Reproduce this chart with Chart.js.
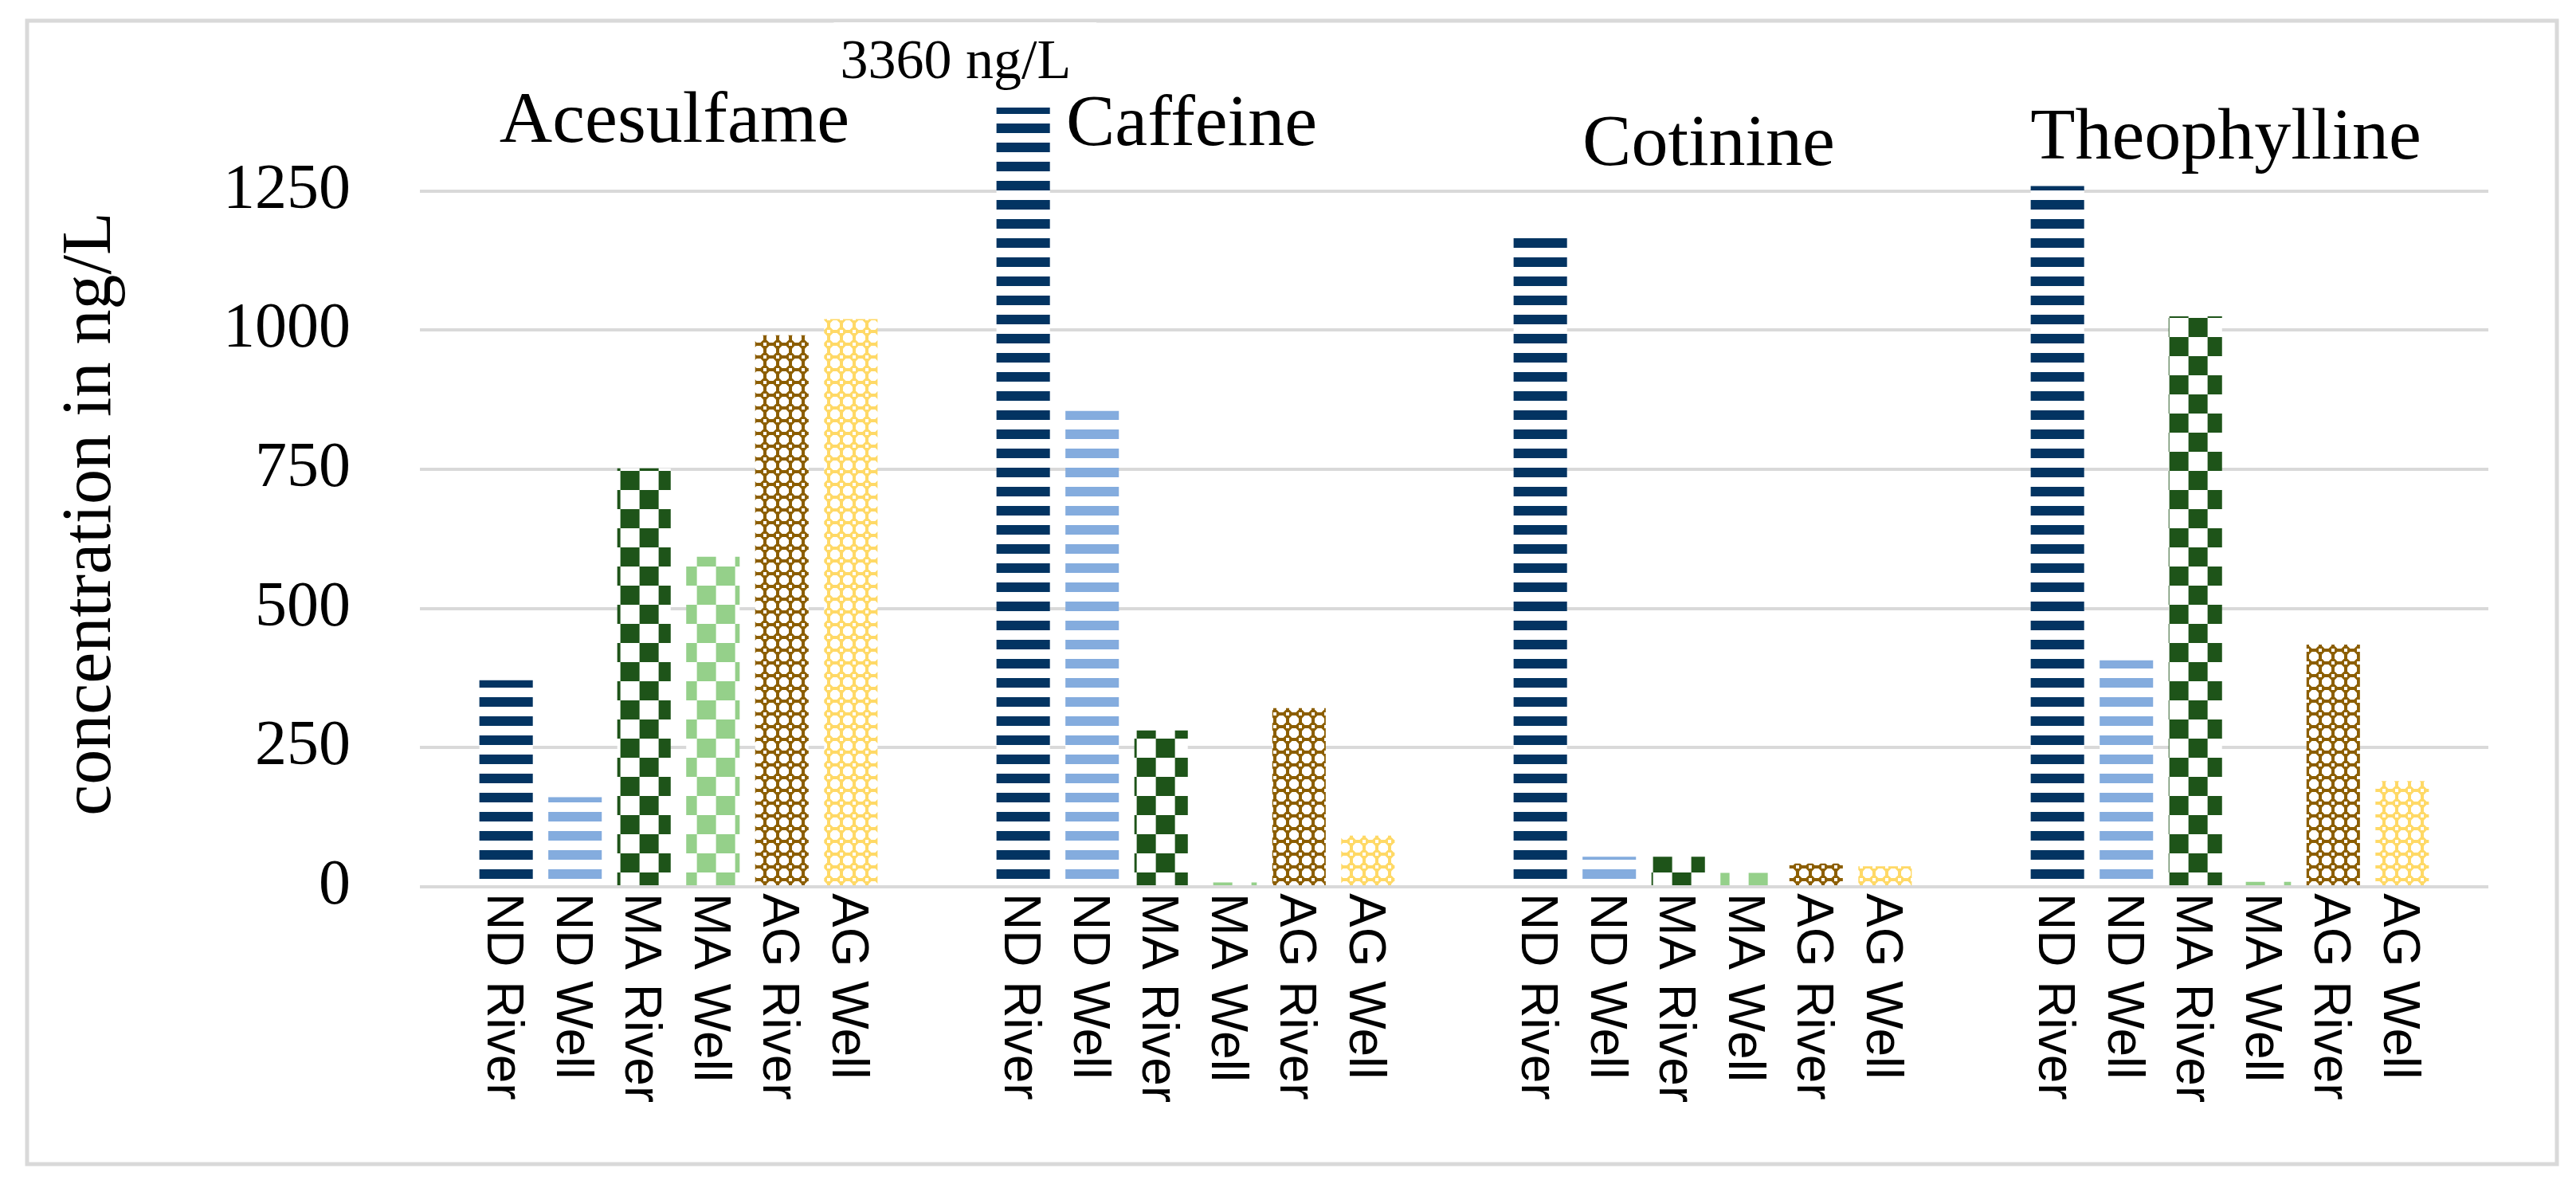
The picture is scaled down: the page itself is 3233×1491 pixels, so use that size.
<!DOCTYPE html>
<html>
<head>
<meta charset="utf-8">
<script src="https://cdn.jsdelivr.net/npm/chart.js@4.4.1/dist/chart.umd.min.js"></script>
<style>
html,body{margin:0;padding:0;background:#fff;overflow:hidden}
canvas{display:block}
</style>
</head>
<body>
<canvas id="c" width="3233" height="1491" style="width:3233px;height:1491px"></canvas>
<script>
// ---- data ----
const compounds = ['Acesulfame', 'Caffeine', 'Cotinine', 'Theophylline'];
const sites = ['ND River', 'ND Well', 'MA River', 'MA Well', 'AG River', 'AG Well'];
const ndRiver = [371, 3360, 1179, 1259];
const ndWell  = [161, 855, 54, 407];
const maRiver = [752, 281, 54, 1025];
const maWell  = [593, 8, 25, 9];
const agRiver = [991, 321, 42, 435];
const agWell  = [1020, 92, 37, 190];
const yTicks = [0, 250, 500, 750, 1000, 1250];
const yMax = 1400;
const yTitle = 'concentration in ng/L';
const offScaleNote = '3360 ng/L';

const seriesValues = [ndRiver, ndWell, maRiver, maWell, agRiver, agWell];

// ---- pattern fills ----
const canvas = document.getElementById('c');
const ctx = canvas.getContext('2d');
function tile(w, h, draw) {
  const c = document.createElement('canvas');
  c.width = w; c.height = h;
  const g = c.getContext('2d');
  g.fillStyle = '#fff'; g.fillRect(0, 0, w, h);
  draw(g);
  return c;
}
function stripes(color) {
  const t = tile(24, 24, g => { g.fillStyle = color; g.fillRect(0, 11, 24, 12); });
  return ctx.createPattern(t, 'repeat');
}
function checker(color) {
  const t = tile(48, 48, g => { g.fillStyle = color; g.fillRect(0, 0, 24, 24); g.fillRect(24, 24, 24, 24); });
  const p = ctx.createPattern(t, 'repeat');
  p.setTransform(new DOMMatrix([1, 0, 0, 1, 10.6, 15]));
  return p;
}
function rings(color) {
  const t = tile(16, 16, g => {
    g.fillStyle = color; g.fillRect(0, 0, 16, 16);
    g.fillStyle = '#fff';
    g.beginPath();
    g.moveTo(5.5, 2); g.lineTo(10.5, 2); g.lineTo(14, 5.5); g.lineTo(14, 10.5);
    g.lineTo(10.5, 14); g.lineTo(5.5, 14); g.lineTo(2, 10.5); g.lineTo(2, 5.5);
    g.closePath(); g.fill();
    g.fillRect(0, 0, 2, 2); g.fillRect(14, 0, 2, 2); g.fillRect(0, 14, 2, 2); g.fillRect(14, 14, 2, 2);
  });
  return ctx.createPattern(t, 'repeat');
}
const fills = [
  stripes('#033462'),
  stripes('#84ACDE'),
  checker('#1E5419'),
  checker('#95D08A'),
  rings('#8C5E00'),
  rings('#FFD966')
];

// ---- decorations: frame, titles, per-bar labels ----
const deco = {
  id: 'deco',
  beforeDraw(chart) {
    const c = chart.ctx;
    c.save();
    c.fillStyle = '#fff';
    c.fillRect(0, 0, chart.width, chart.height);
    c.strokeStyle = '#d9d9d9';
    c.lineWidth = 5;
    c.strokeRect(34, 26, 3175, 1435);
    c.restore();
  },
  afterDraw(chart) {
    const c = chart.ctx;
    const xs = chart.scales.x;
    const area = chart.chartArea;
    c.save();
    c.fillStyle = '#000';

    // group titles
    const titleBase = [178, 182, 207, 199];
    c.font = '92px "Liberation Serif"';
    c.textAlign = 'center';
    c.textBaseline = 'alphabetic';
    compounds.forEach((name, i) => {
      c.fillText(name, xs.getPixelForValue(i) - 5, titleBase[i]);
    });

    // off-scale note for Caffeine ND River
    const big = chart.getDatasetMeta(0).data[1];
    c.font = '70px "Liberation Serif"';
    const nw = c.measureText(offScaleNote).width;
    const nr = big.x + 60;
    c.fillStyle = '#fff';
    c.fillRect(nr - nw - 8, 28, nw + 40, 74);
    c.fillStyle = '#000';
    c.textAlign = 'right';
    c.fillText(offScaleNote, nr, 98);

    // y-axis title
    c.font = '88px "Liberation Serif"';
    c.textAlign = 'center';
    c.save();
    c.translate(138, 645);
    c.rotate(-Math.PI / 2);
    c.fillText(yTitle, 0, 0);
    c.restore();

    // per-bar labels (rotated clockwise, reading downward)
    c.font = '64px "Liberation Sans"';
    c.textAlign = 'left';
    const capH = 64 * 0.716;
    sites.forEach((s, i) => {
      chart.getDatasetMeta(i).data.forEach(bar => {
        c.save();
        c.translate(bar.x - capH / 2, area.bottom + 8);
        c.rotate(Math.PI / 2);
        c.fillText(s, 0, 0);
        c.restore();
      });
    });
    c.restore();
  }
};

new Chart(ctx, {
  type: 'bar',
  data: {
    labels: compounds,
    datasets: sites.map((s, i) => ({
      label: s,
      data: seriesValues[i],
      backgroundColor: fills[i],
      borderWidth: 0,
      clip: 0
    }))
  },
  options: {
    responsive: false,
    animation: false,
    devicePixelRatio: 1,
    layout: { padding: { left: 0, right: 110, top: 127, bottom: 0 } },
    plugins: { legend: { display: false }, tooltip: { enabled: false } },
    datasets: { bar: { categoryPercentage: 0.8, barPercentage: 0.775 } },
    scales: {
      x: {
        grid: { display: false },
        border: { display: false },
        ticks: { display: false },
        afterFit(s) { s.height = 378; }
      },
      y: {
        min: 0,
        max: yMax,
        grid: { color: '#d9d9d9', lineWidth: 4, drawTicks: false },
        border: { display: false },
        ticks: {
          stepSize: 250,
          includeBounds: false,
          padding: 87,
          color: '#000',
          font: { family: 'Liberation Serif', size: 80 },
          callback: v => String(v)
        },
        afterBuildTicks(s) { s.ticks = yTicks.map(v => ({ value: v })); },
        afterFit(s) { s.width = 527; }
      }
    }
  },
  plugins: [deco]
});
</script>
</body>
</html>
